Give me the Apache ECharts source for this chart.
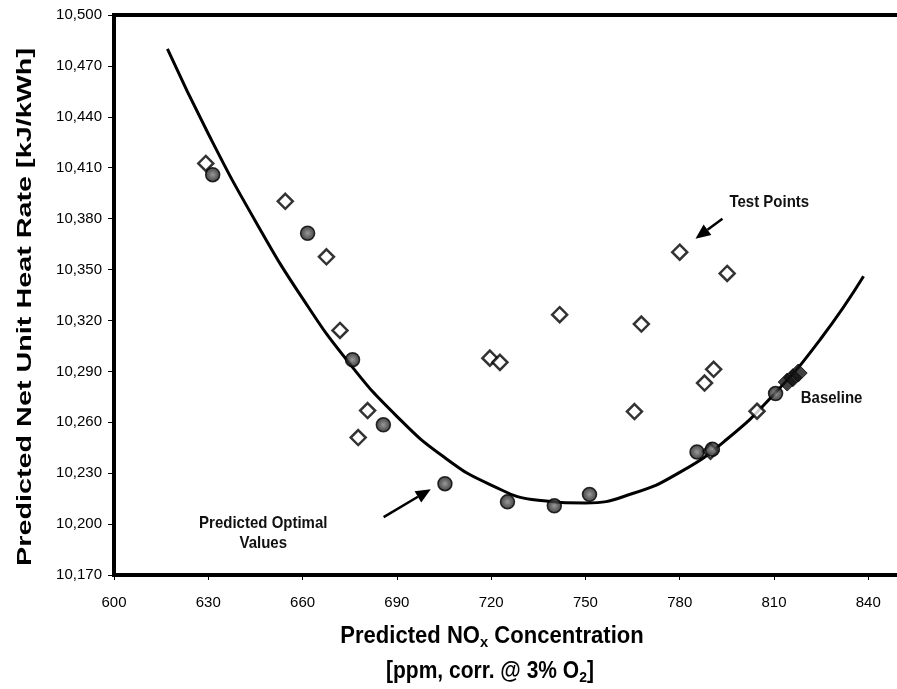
<!DOCTYPE html>
<html>
<head>
<meta charset="utf-8">
<script src="https://cdn.jsdelivr.net/npm/echarts@6/dist/echarts.min.js"></script>
<style>
  html, body { margin: 0; padding: 0; background: #fff; }
  #main { width: 897px; height: 689px; }
</style>
</head>
<body>
<div id="main"></div>
<script>
// test points (open diamonds): [NOx ppm, heat rate kJ/kWh]
const testPoints = [
  [629.2, 10412.5], [654.5, 10390.2], [667.6, 10357.5], [671.9, 10314.1],
  [680.7, 10266.9], [677.7, 10251.0], [719.6, 10297.8], [722.8, 10295.3],
  [741.8, 10323.4], [767.8, 10317.9], [765.6, 10266.3], [780.0, 10360.2],
  [795.1, 10347.7], [787.9, 10283.1], [790.8, 10291.2], [789.8, 10242.9],
  [804.6, 10266.5]
];
// predicted optimal values (shaded circles)
const optimalPoints = [
  [631.4, 10405.9], [661.6, 10371.4], [675.9, 10296.9], [685.7, 10258.5],
  [705.3, 10223.8], [725.2, 10213.1], [740.1, 10210.8], [751.3, 10217.5],
  [785.5, 10242.5], [790.4, 10244.1], [810.5, 10276.9]
];
// baseline (filled diamonds)
const baselinePoints = [[814.2, 10283.7], [816.0, 10286.3], [817.7, 10289.0]];
// fitted curve
const fitCurve = [
  [617, 10480], [630, 10430], [645, 10378.5], [660, 10333], [675, 10294.5],
  [690, 10263.5], [705, 10239.5], [720, 10223], [735, 10214], [750, 10212.5],
  [765, 10218], [780, 10230.5], [795, 10250], [810, 10276.5], [825, 10309.5],
  [838.5, 10346]
];
const xMin = 600, xMax = 852, xStep = 30;
const yMin = 10170, yMax = 10500, yStep = 30;

let chartDom = document.getElementById("main");
let myChart = echarts.init(chartDom);

const labelFont = "Liberation Sans";

let option = {
  animation: false,
  grid: {
    left: 114,
    top: 15,
    bottom: 114,
    width: 792,
    outerBoundsMode: "none",
    containLabel: false,
    show: true,
    borderColor: "#000",
    borderWidth: 4,
  },
  xAxis: {
    type: "value",
    min: xMin,
    max: xMax,
    interval: xStep,
    splitLine: { show: false },
    axisLine: { lineStyle: { color: "#000", width: 4 } },
    axisTick: { show: true, length: 5, lineStyle: { color: "#000", width: 1 } },
    axisLabel: {
      color: "#000",
      fontFamily: labelFont,
      fontSize: 15,
      margin: 20,
      showMaxLabel: false,
    },
  },
  yAxis: {
    type: "value",
    min: yMin,
    max: yMax,
    interval: yStep,
    splitLine: { show: false },
    axisLine: { lineStyle: { color: "#000", width: 4 } },
    axisTick: { show: true, length: 6, lineStyle: { color: "#000", width: 1 } },
    axisLabel: {
      color: "#000",
      fontFamily: labelFont,
      fontSize: 15,
      margin: 12,
      formatter: (v) => v.toLocaleString("en-US"),
    },
  },
  series: [
    {
      name: "fit",
      type: "line",
      data: fitCurve,
      smooth: 0.5,
      showSymbol: false,
      lineStyle: { color: "#000", width: 3 },
      z: 2,
    },
    {
      name: "Test Points",
      type: "scatter",
      data: testPoints,
      symbol: "diamond",
      symbolSize: 15,
      itemStyle: { color: "#fff", borderColor: "#000", borderWidth: 2.5 },
      z: 3,
    },
    {
      name: "Predicted Optimal Values",
      type: "scatter",
      data: optimalPoints,
      symbol: "circle",
      symbolSize: 14,
      itemStyle: {
        color: {
          type: "radial", x: 0.5, y: 0.5, r: 0.5,
          colorStops: [
            { offset: 0, color: "#808080" },
            { offset: 0.5, color: "#454545" },
            { offset: 1, color: "#111" },
          ],
        },
        borderColor: "#000",
        borderWidth: 1.5,
      },
      z: 4,
    },
    {
      name: "Baseline",
      type: "scatter",
      data: baselinePoints,
      symbol: "diamond",
      symbolSize: 18,
      itemStyle: { color: "#111", borderColor: "#000", borderWidth: 1 },
      z: 5,
    },
  ],
};

myChart.setOption(option);

// annotations placed in data space
const toPx = (p) => myChart.convertToPixel({ gridIndex: 0 }, p);

function arrow(from, to) {
  const a = toPx(from), b = toPx(to);
  const ang = Math.atan2(b[1] - a[1], b[0] - a[0]);
  const hl = 15, hw = 6.5;
  const base = [b[0] - hl * Math.cos(ang), b[1] - hl * Math.sin(ang)];
  const nx = -Math.sin(ang), ny = Math.cos(ang);
  return [
    {
      type: "line",
      shape: { x1: a[0], y1: a[1], x2: base[0], y2: base[1] },
      style: { stroke: "#000", lineWidth: 2.5 },
      z: 10,
    },
    {
      type: "polygon",
      shape: {
        points: [b, [base[0] + nx * hw, base[1] + ny * hw], [base[0] - nx * hw, base[1] - ny * hw]],
      },
      style: { fill: "#000" },
      z: 10,
    },
  ];
}

function note(text, at, align) {
  const p = toPx(at);
  return {
    type: "text",
    x: p[0],
    y: p[1],
    scaleY: 1.15,
    style: {
      text: text,
      fill: "#111",
      font: "bold 15px " + labelFont,
      align: align || "center",
      verticalAlign: "middle",
    },
    z: 10,
  };
}

const subRich = {
  a: { fontFamily: labelFont, fontWeight: "bold", fontSize: 21, fill: "#000", color: "#000" },
  s: { fontFamily: labelFont, fontWeight: "bold", fontSize: 14, fill: "#000", color: "#000", verticalAlign: "bottom", padding: [10, 0, 0, 0] },
};

let elements = [
  note("Test Points", [808.5, 10389.4]),
  note("Baseline", [818.5, 10274.1], "left"),
  note("Predicted Optimal", [647.5, 10200.6]),
  note("Values", [647.5, 10188.8]),
  ...arrow([793.6, 10380.0], [785.0, 10368.2]),
  ...arrow([685.8, 10204.1], [700.8, 10220.6]),
  {
    type: "text",
    x: 492,
    y: 637,
    scaleX: 1.05,
    scaleY: 1.1,
    style: {
      text: "{a|Predicted NO}{s|x}{a| Concentration}",
      rich: subRich,
      align: "center",
      verticalAlign: "middle",
    },
  },
  {
    type: "text",
    x: 490,
    y: 672,
    scaleY: 1.1,
    style: {
      text: "{a|[ppm, corr. @ 3% O}{s|2}{a|]}",
      rich: subRich,
      align: "center",
      verticalAlign: "middle",
    },
  },
  {
    type: "text",
    x: 25,
    y: 307,
    rotation: Math.PI / 2,
    scaleX: 1.37,
    style: {
      text: "Predicted Net Unit Heat Rate [kJ/kWh]",
      font: "bold 21px " + labelFont,
      fill: "#000",
      align: "center",
      verticalAlign: "middle",
    },
  },
];

myChart.setOption({ graphic: { elements: elements } });
</script>
</body>
</html>
